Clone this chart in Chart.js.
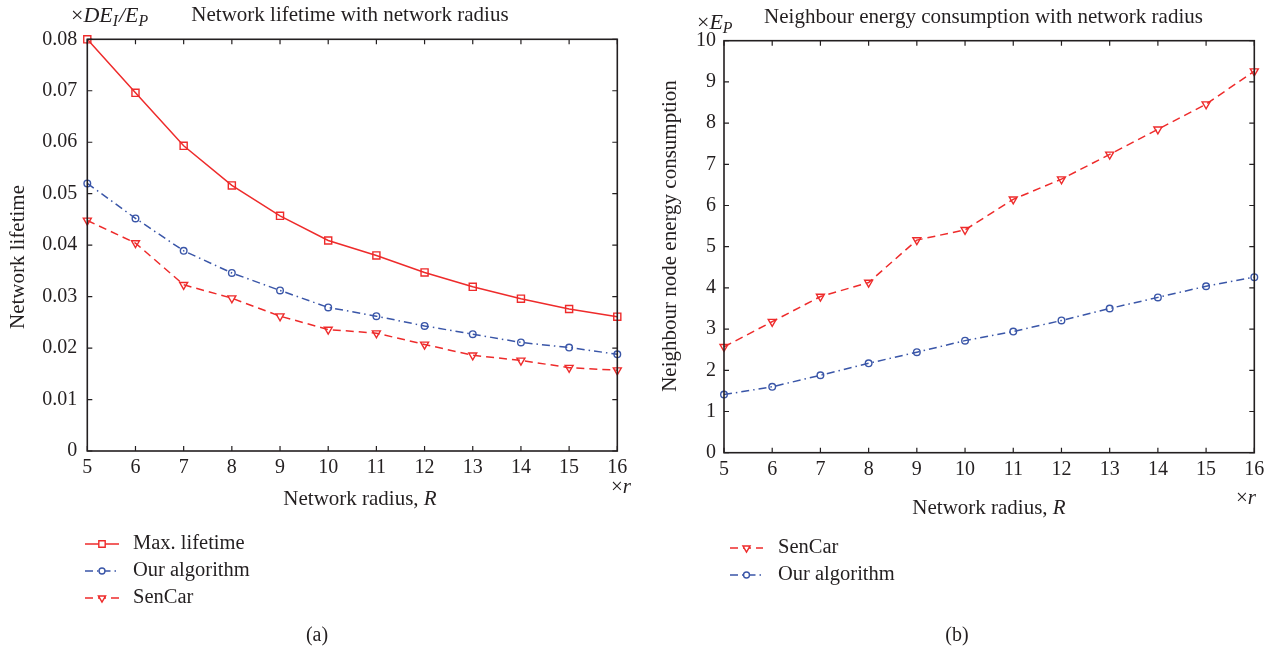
<!DOCTYPE html>
<html>
<head>
<meta charset="utf-8">
<script src="https://cdn.jsdelivr.net/npm/chart.js@4/dist/chart.umd.min.js"></script>
<style>
  html,body{margin:0;padding:0;background:#fff;}
  body{width:1271px;height:650px;overflow:hidden;position:relative;}
  .layer{position:absolute;left:0;top:0;width:1271px;height:650px;}
</style>
</head>
<body>
<div class="layer"><canvas id="c1"></canvas></div>
<div class="layer"><canvas id="c2"></canvas></div>
<script>
// ---------------- data ----------------
const radius = [5, 6, 7, 8, 9, 10, 11, 12, 13, 14, 15, 16];

const maxLifetime = [0.0800, 0.0696, 0.0593, 0.0516, 0.0457, 0.0409, 0.0380, 0.0347, 0.0319, 0.0296, 0.0276, 0.0261];
const ourLifetime = [0.0520, 0.0452, 0.0389, 0.0346, 0.0312, 0.0279, 0.0262, 0.0243, 0.0227, 0.0211, 0.0201, 0.0188];
const senCarLifetime = [0.0448, 0.0404, 0.0323, 0.0297, 0.0262, 0.0236, 0.0229, 0.0207, 0.0186, 0.0176, 0.0162, 0.0157];

const senCarEnergy = [2.57, 3.18, 3.79, 4.13, 5.16, 5.41, 6.15, 6.64, 7.24, 7.85, 8.46, 9.26];
const ourEnergy = [1.41, 1.60, 1.88, 2.17, 2.44, 2.72, 2.94, 3.21, 3.50, 3.77, 4.04, 4.26];

const radiusTicks = [5, 6, 7, 8, 9, 10, 11, 12, 13, 14, 15, 16];
const lifetimeTicks = [0, 0.01, 0.02, 0.03, 0.04, 0.05, 0.06, 0.07, 0.08];
const energyTicks = [0, 1, 2, 3, 4, 5, 6, 7, 8, 9, 10];

// ---------------- styles ----------------
const FONT = "'Liberation Serif', 'DejaVu Serif', serif";
const INK = '#231f20';
const RED = '#ee2b2b';
const BLUE = '#3a56a8';

Chart.defaults.font.family = FONT;
Chart.defaults.color = INK;

function pts(xs, ys) { return xs.map((x, i) => ({ x: x, y: ys[i] })); }

const styleMax = { borderColor: RED, pointStyle: 'rect', pointRadius: 5, borderDash: [], pointRotation: 0 };
const styleOur = { borderColor: BLUE, pointStyle: 'circle', pointRadius: 3.3, borderDash: [8, 4, 1.5, 4], pointRotation: 0 };
const styleSen = { borderColor: RED, pointStyle: 'triangle', pointRadius: 4.6, borderDash: [8, 5], pointRotation: 180 };

function ds(label, data, st) {
  return {
    label: label, data: data,
    borderColor: st.borderColor, backgroundColor: 'rgba(255,255,255,0)',
    borderWidth: 1.5, borderDash: st.borderDash,
    pointStyle: st.pointStyle, pointRadius: st.pointRadius, pointRotation: st.pointRotation,
    pointBorderColor: st.borderColor, pointBackgroundColor: 'rgba(255,255,255,0)',
    pointBorderWidth: 1.4, pointHoverRadius: st.pointRadius,
    tension: 0, fill: false, clip: false
  };
}

// ---------------- text helpers ----------------
function fontStr(p, size) { return (p.italic ? 'italic ' : '') + size + 'px ' + FONT; }
function richWidth(ctx, parts, size) {
  let w = 0;
  parts.forEach(p => { ctx.font = fontStr(p, p.sub ? size * 0.72 : size); w += ctx.measureText(p.t).width; });
  return w;
}
function drawRich(ctx, parts, x, y, size, align) {
  const w = richWidth(ctx, parts, size);
  let cx = align === 'center' ? x - w / 2 : (align === 'right' ? x - w : x);
  ctx.textBaseline = 'alphabetic';
  ctx.textAlign = 'left';
  ctx.fillStyle = INK;
  parts.forEach(p => {
    const s = p.sub ? size * 0.72 : size;
    ctx.font = fontStr(p, s);
    ctx.fillText(p.t, cx, y + (p.sub ? size * 0.2 : 0));
    cx += ctx.measureText(p.t).width + (p.sub ? 1 : 0);
  });
}

function legendItem(ctx, st, x0, x1, y, label, tx, size) {
  ctx.save();
  ctx.strokeStyle = st.borderColor;
  ctx.lineWidth = 1.5;
  ctx.setLineDash(st.borderDash);
  ctx.beginPath(); ctx.moveTo(x0, y); ctx.lineTo(x1, y); ctx.stroke();
  ctx.setLineDash([]);
  ctx.lineWidth = 1.4;
  ctx.fillStyle = 'rgba(255,255,255,1)';
  Chart.helpers.drawPoint(ctx, { pointStyle: st.pointStyle, radius: st.pointRadius * 0.9, rotation: st.pointRotation, borderWidth: 1.4 }, (x0 + x1) / 2, y);
  ctx.restore();
  ctx.save();
  ctx.font = size + 'px ' + FONT;
  ctx.fillStyle = INK;
  ctx.textBaseline = 'middle';
  ctx.textAlign = 'left';
  ctx.fillText(label, tx, y);
  ctx.restore();
}

// frame, inward ticks and annotation texts
function framePlugin(cfg) {
  return {
    id: 'frame',
    afterDraw(chart) {
      const ctx = chart.ctx, a = chart.chartArea;
      const xs = chart.scales.x, ys = chart.scales.y;
      ctx.save();
      ctx.strokeStyle = INK;
      ctx.lineWidth = 1.6;
      ctx.strokeRect(a.left, a.top, a.right - a.left, a.bottom - a.top);
      ctx.lineWidth = 1.2;
      ctx.beginPath();
      xs.ticks.forEach(t => {
        const px = xs.getPixelForValue(t.value);
        ctx.moveTo(px, a.bottom); ctx.lineTo(px, a.bottom - 5);
        ctx.moveTo(px, a.top); ctx.lineTo(px, a.top + 5);
      });
      ys.ticks.forEach(t => {
        const py = ys.getPixelForValue(t.value);
        ctx.moveTo(a.left, py); ctx.lineTo(a.left + 5, py);
        ctx.moveTo(a.right, py); ctx.lineTo(a.right - 5, py);
      });
      ctx.stroke();
      ctx.restore();

      ctx.save();
      // title
      ctx.font = '21px ' + FONT; ctx.fillStyle = INK; ctx.textAlign = 'center'; ctx.textBaseline = 'middle';
      ctx.fillText(cfg.title, cfg.titleX, cfg.titleY);
      // unit label above y axis
      drawRich(ctx, cfg.unit, cfg.unitX, cfg.unitY, 22, 'left');
      // x axis title
      drawRich(ctx, [{ t: 'Network radius, ' }, { t: 'R', italic: true }], cfg.xTitleX, cfg.xTitleY, 21, 'center');
      // ×r
      drawRich(ctx, [{ t: '\u00d7' }, { t: 'r', italic: true }], cfg.rX, cfg.rY, 21, 'left');
      // y axis title
      ctx.save();
      ctx.translate(cfg.yTitleX, cfg.yTitleY);
      ctx.rotate(-Math.PI / 2);
      ctx.font = '21px ' + FONT; ctx.fillStyle = INK; ctx.textAlign = 'center'; ctx.textBaseline = 'middle';
      ctx.fillText(cfg.yTitle, 0, 0);
      ctx.restore();
      // legend
      cfg.legend.forEach((it, i) => {
        legendItem(ctx, it.st, cfg.legX0, cfg.legX1, cfg.legY0 + i * 27, it.label, cfg.legTX, 20.5);
      });
      // caption
      ctx.font = '20px ' + FONT; ctx.fillStyle = INK; ctx.textAlign = 'center'; ctx.textBaseline = 'middle';
      ctx.fillText(cfg.caption, cfg.capX, cfg.capY);
      ctx.restore();
    }
  };
}

function axes(yTicks, yFmt, yWidth, yPad) {
  return {
    x: {
      type: 'linear', min: radiusTicks[0], max: radiusTicks[radiusTicks.length - 1],
      afterBuildTicks: s => { s.ticks = radiusTicks.map(v => ({ value: v })); },
      grid: { display: false, drawTicks: false },
      border: { display: false },
      ticks: { font: { size: 20, family: FONT }, color: INK, padding: 5, maxRotation: 0, autoSkip: false },
      afterFit: s => { s.height = 40; s.paddingLeft = 0; s.paddingRight = 0; s.paddingTop = 0; s.paddingBottom = 0; }
    },
    y: {
      type: 'linear', min: yTicks[0], max: yTicks[yTicks.length - 1],
      afterBuildTicks: s => { s.ticks = yTicks.map(v => ({ value: v })); },
      grid: { display: false, drawTicks: false },
      border: { display: false },
      ticks: { font: { size: 20, family: FONT }, color: INK, padding: yPad, callback: yFmt, autoSkip: false },
      afterFit: s => { s.width = yWidth; s.paddingLeft = 0; s.paddingRight = 0; s.paddingTop = 0; s.paddingBottom = 0; }
    }
  };
}

const common = {
  responsive: true, maintainAspectRatio: false, animation: false,
  plugins: { legend: { display: false }, tooltip: { enabled: false } },
  events: []
};

// ---------------- chart (a) ----------------
new Chart(document.getElementById('c1'), {
  type: 'line',
  data: {
    datasets: [
      ds('Max. lifetime', pts(radius, maxLifetime), styleMax),
      ds('Our algorithm', pts(radius, ourLifetime), styleOur),
      ds('SenCar', pts(radius, senCarLifetime), styleSen)
    ]
  },
  options: Object.assign({}, common, {
    layout: { padding: { left: 0, right: 1271 - 617.3, top: 39.3, bottom: 650 - 451 - 40 } },
    scales: axes(lifetimeTicks, v => (v === 0 ? '0' : v.toFixed(2)), 87.3, 10)
  }),
  plugins: [framePlugin({
    title: 'Network lifetime with network radius', titleX: 350, titleY: 15,
    unit: [{ t: '\u00d7' }, { t: 'DE', italic: true }, { t: 'I', italic: true, sub: true }, { t: '/', italic: true }, { t: 'E', italic: true }, { t: 'P', italic: true, sub: true }],
    unitX: 71, unitY: 22,
    xTitleX: 360, xTitleY: 505,
    rX: 611, rY: 493,
    yTitle: 'Network lifetime', yTitleX: 18, yTitleY: 257,
    legend: [{ st: styleMax, label: 'Max. lifetime' }, { st: styleOur, label: 'Our algorithm' }, { st: styleSen, label: 'SenCar' }],
    legX0: 85, legX1: 119, legY0: 544, legTX: 133,
    caption: '(a)', capX: 317, capY: 636
  })]
});

// ---------------- chart (b) ----------------
new Chart(document.getElementById('c2'), {
  type: 'line',
  data: {
    datasets: [
      ds('SenCar', pts(radius, senCarEnergy), styleSen),
      ds('Our algorithm', pts(radius, ourEnergy), styleOur)
    ]
  },
  options: Object.assign({}, common, {
    layout: { padding: { left: 640, right: 1271 - 1254.3, top: 40.7, bottom: 650 - 452.7 - 40 } },
    scales: axes(energyTicks, v => String(v), 84, 8)
  }),
  plugins: [framePlugin({
    title: 'Neighbour energy consumption with network radius', titleX: 983.5, titleY: 17,
    unit: [{ t: '\u00d7' }, { t: 'E', italic: true }, { t: 'P', italic: true, sub: true }],
    unitX: 697, unitY: 29,
    xTitleX: 989, xTitleY: 514,
    rX: 1236, rY: 504,
    yTitle: 'Neighbour node energy consumption', yTitleX: 670, yTitleY: 236,
    legend: [{ st: styleSen, label: 'SenCar' }, { st: styleOur, label: 'Our algorithm' }],
    legX0: 730, legX1: 763, legY0: 548, legTX: 778,
    caption: '(b)', capX: 957, capY: 636
  })]
});
</script>
</body>
</html>
